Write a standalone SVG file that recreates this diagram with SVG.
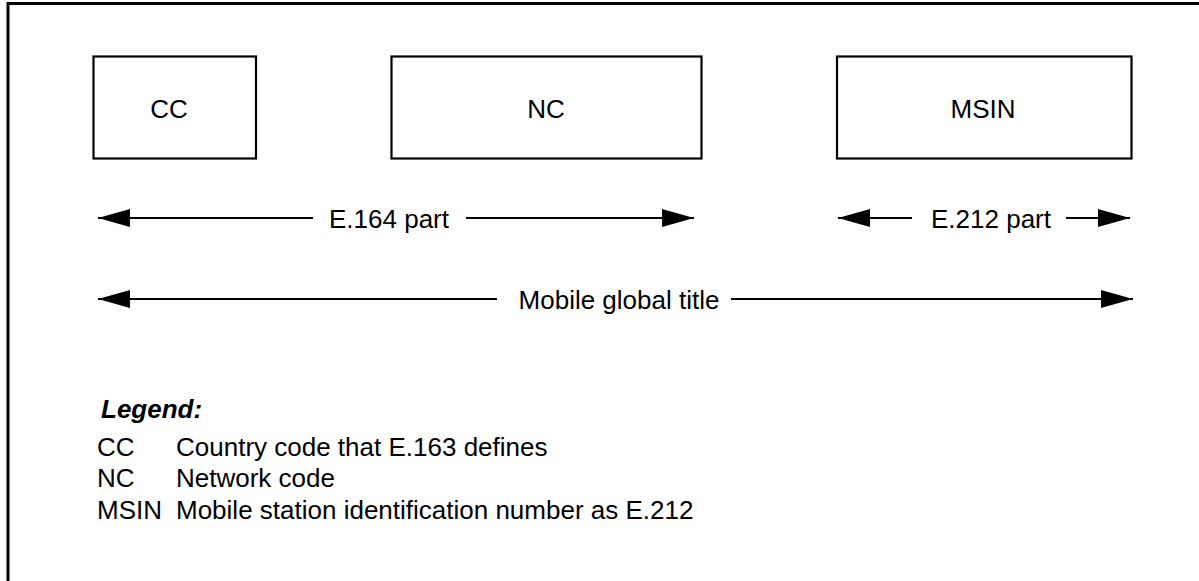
<svg xmlns="http://www.w3.org/2000/svg" width="1199" height="581" viewBox="0 0 1199 581">
  <style>
    .frame { fill: none; stroke: #000; stroke-width: 3; }
    .box { fill: #fff; stroke: #000; stroke-width: 2.2; }
    .lbl { font-family: "Liberation Sans", Arial, sans-serif; font-size: 26px; fill: #000; }
    .mid { text-anchor: middle; }
    .leg { font-family: "Liberation Sans", Arial, sans-serif; font-size: 26px; fill: #000; }
    .head { font-weight: bold; font-style: italic; }
    .conn { stroke: #000; stroke-width: 2; fill: none; }
  </style>
  <defs>
    <marker id="ah" markerUnits="userSpaceOnUse" markerWidth="33" markerHeight="19" refX="32" refY="9" orient="auto-start-reverse">
      <path d="M0,0 L32,9 L0,18 Z" fill="#000"/>
    </marker>
  </defs>
  <rect width="1199" height="581" fill="#fff"/>
  <rect class="frame" x="8" y="3.5" width="1260" height="640"/>

  <g id="node-cc">
    <rect class="box" x="93.5" y="56.5" width="162.5" height="102"/>
    <text class="lbl mid" x="169" y="118">CC</text>
  </g>
  <g id="node-nc">
    <rect class="box" x="391.5" y="56.5" width="310" height="102"/>
    <text class="lbl mid" x="546" y="118">NC</text>
  </g>
  <g id="node-msin">
    <rect class="box" x="837" y="56.5" width="294.5" height="102"/>
    <text class="lbl mid" x="983" y="118">MSIN</text>
  </g>

  <g id="connectors">
    <line class="conn" x1="313" y1="218" x2="98" y2="218" marker-end="url(#ah)"/>
    <line class="conn" x1="466" y1="218" x2="694" y2="218" marker-end="url(#ah)"/>
    <line class="conn" x1="912" y1="218" x2="838" y2="218" marker-end="url(#ah)"/>
    <line class="conn" x1="1066" y1="218" x2="1130" y2="218" marker-end="url(#ah)"/>
    <line class="conn" x1="497" y1="299" x2="98" y2="299" marker-end="url(#ah)"/>
    <line class="conn" x1="731" y1="299" x2="1133" y2="299" marker-end="url(#ah)"/>
  </g>

  <g id="labels">
    <text class="lbl mid" x="389" y="227.5">E.164 part</text>
    <text class="lbl mid" x="991" y="227.5">E.212 part</text>
    <text class="lbl mid" x="619" y="308.5">Mobile global title</text>
  </g>

  <g id="legend">
    <text class="leg head" x="101" y="418">Legend:</text>
    <text class="leg" x="97" y="455.5">CC</text>
    <text class="leg" x="176" y="455.5">Country code that E.163 defines</text>
    <text class="leg" x="97" y="487">NC</text>
    <text class="leg" x="176" y="487">Network code</text>
    <text class="leg" x="97" y="518.5">MSIN</text>
    <text class="leg" x="176" y="518.5">Mobile station identification number as E.212</text>
  </g>
</svg>
